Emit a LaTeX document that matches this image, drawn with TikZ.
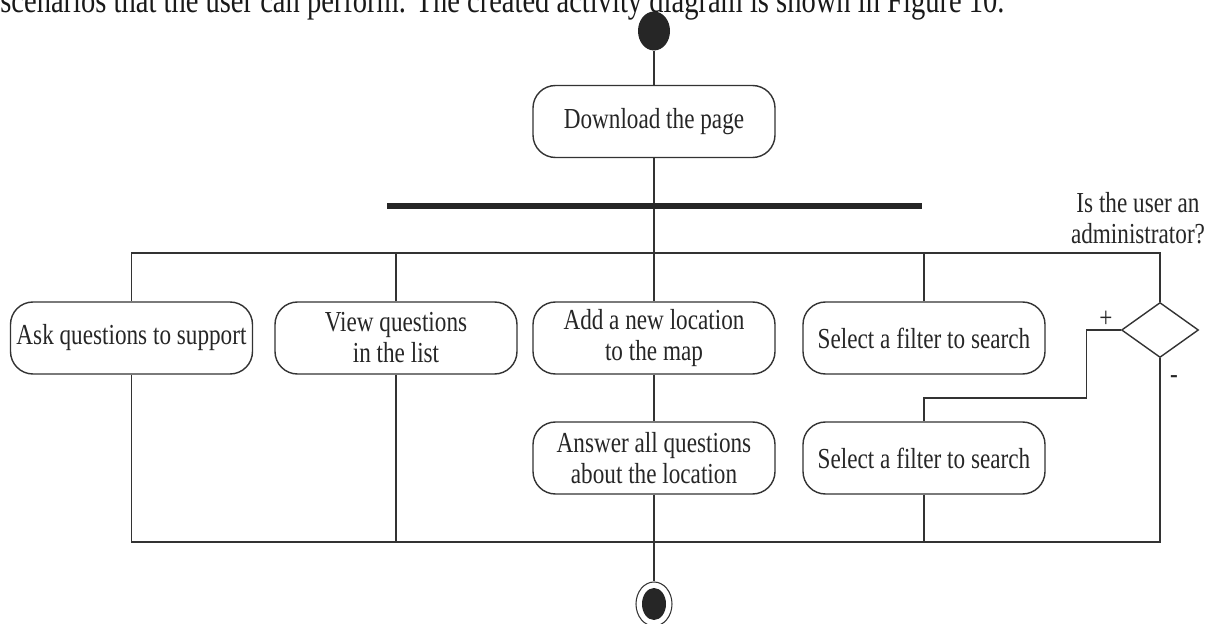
\documentclass[tikz,border=0pt]{standalone}
\usepackage{fontspec}
\setmainfont[FakeStretch=0.80]{Liberation Serif}
\usepackage{xcolor}
\usepackage{tikz}
\usetikzlibrary{shapes.geometric}

\begin{document}
\begin{tikzpicture}[
  act/.style={rectangle, draw=black!80, line width=0.8pt, rounded corners=0.45cm,
    minimum width=4.84cm, minimum height=1.44cm, inner sep=1pt,
    align=center, font=\fontsize{16.5}{17.6}\selectfont, text=black!85},
  initnode/.style={ellipse, fill=black!85, inner sep=0pt,
    minimum width=0.64cm, minimum height=0.78cm},
  finalnode/.style={ellipse, draw=black!80, line width=0.6pt, inner sep=0pt,
    minimum width=0.72cm, minimum height=0.88cm},
  forkbar/.style={rectangle, fill=black!85, inner sep=0pt,
    minimum width=10.7cm, minimum height=0.12cm},
  decnode/.style={diamond, draw=black!80, line width=0.8pt, inner sep=0pt,
    minimum width=1.54cm, minimum height=1.1cm},
  lbl/.style={font=\fontsize{16.5}{17.6}\selectfont, text=black!85, align=center},
  flow/.style={draw=black!80, line width=0.6pt}
]
\useasboundingbox (0,0) rectangle (24.24,-12.48);

% text line of the page above the figure
\node[anchor=base west, inner sep=0pt, font=\fontsize{20.3}{22}\selectfont, text=black!90]
  (caption) at (0,-0.25) {scenarios that the user can perform. The created activity diagram is shown in Figure 10.};

% start, download and fork
\node[initnode] (start) at (13.08, -0.62) {};
\node[act] (load) at (13.08, -2.43) {Download the page};
\node[forkbar] (fork) at (13.08, -4.12) {};
\coordinate (split) at (13.08, -5.06);

% first row of actions
\node[act] (ask)  at ( 2.63, -6.76) {Ask questions to support};
\node[act] (view) at ( 7.92, -6.76) {View questions\\in the list};
\node[act] (add)  at (13.08, -6.76) {Add a new location\\to the map};
\node[act] (sel1) at (18.48, -6.76) {Select a filter to search};
\node[decnode] (dec) at (23.2, -6.6) {};
\node[lbl] (quest) at (22.76, -4.36) {Is the user an\\administrator?};
\node[lbl] (plus) at (22.12, -6.38) {+};
\node[lbl] (minus) at (23.48, -7.6) {-};

% second row of actions
\node[act] (answer) at (13.08, -9.16) {Answer all questions\\about the location};
\node[act] (sel2)   at (18.48, -9.16) {Select a filter to search};

% join and end
\coordinate (join) at (13.08, -10.84);
\node[finalnode] (stop) at (13.08, -12.08) {};
\node[initnode, minimum width=0.48cm, minimum height=0.64cm] (stopdot) at (stop) {};

\draw[flow] (start) -- (load);
\draw[flow] (load) -- (fork);
\draw[flow] (fork) -- (split) -- (add);
\draw[flow] (ask.north) |- (split);
\draw[flow] (view.north) |- (split);
\draw[flow] (sel1.north) |- (split);
\draw[flow] (dec.north) |- (split);
\draw[flow] (add) -- (answer);
\draw[flow] (dec.west) -- ++(-0.68,0) -- ++(0,-1.36) -| (sel2.north);

\draw[flow] (ask.south) |- (join);
\draw[flow] (view.south) |- (join);
\draw[flow] (sel2.south) |- (join);
\draw[flow] (dec.south) |- (join);
\draw[flow] (answer) -- (join) -- (stop);

\end{tikzpicture}
\end{document}
